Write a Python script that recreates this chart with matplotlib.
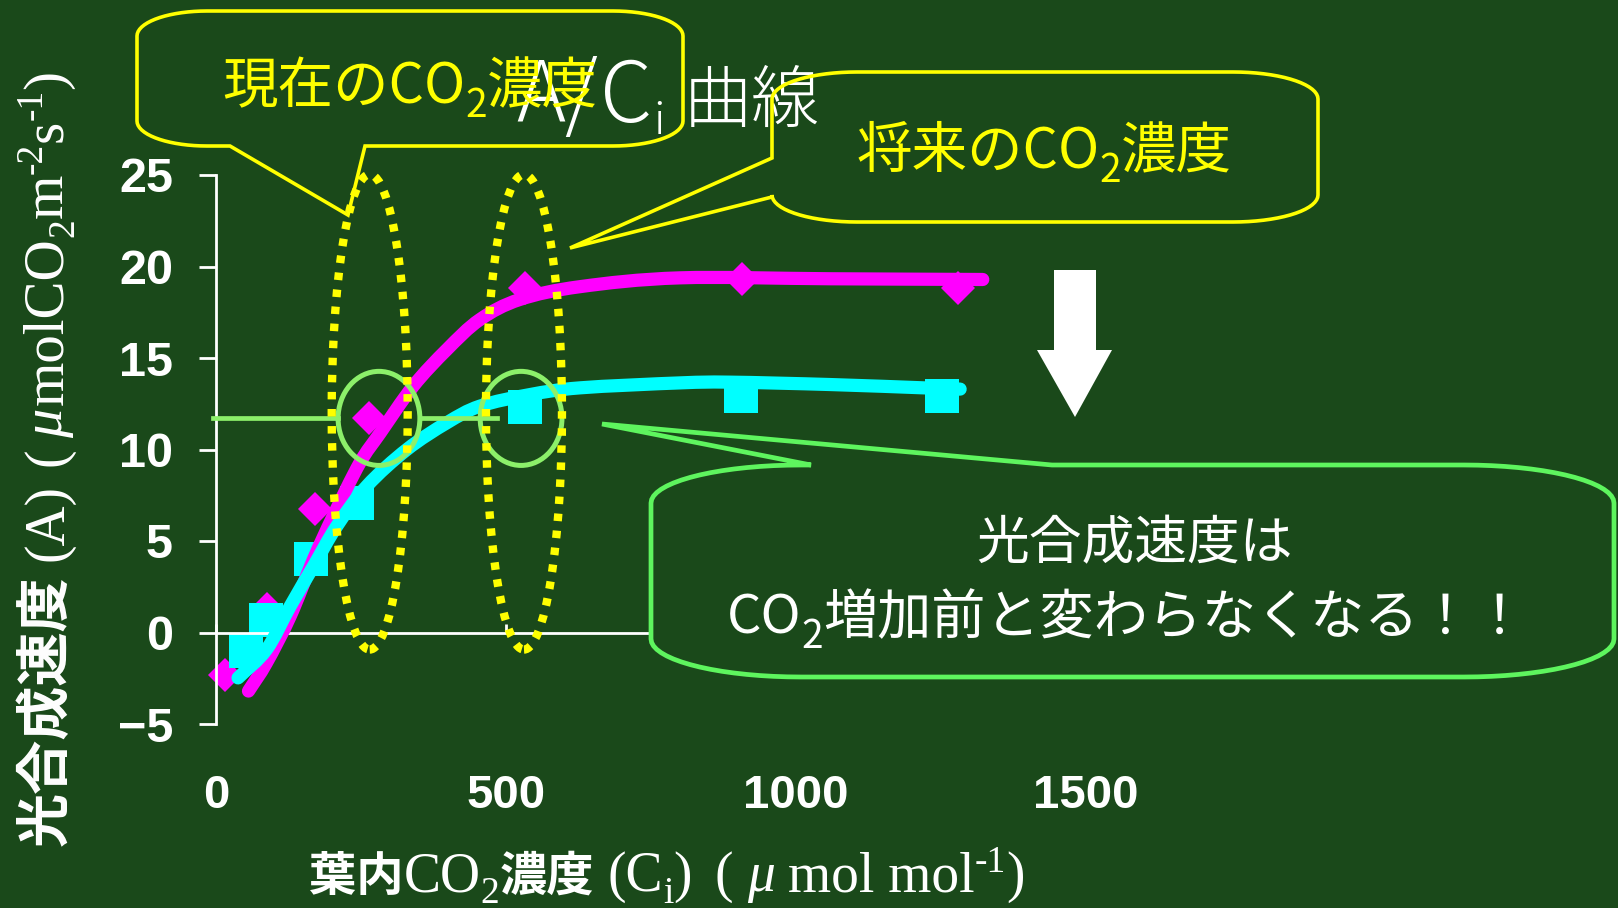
import numpy as np
import matplotlib
matplotlib.use("Agg")
import matplotlib.pyplot as plt
from matplotlib.patches import Polygon, Ellipse, PathPatch
from matplotlib.path import Path

# ---------------- data ----------------
# leaf-internal CO2 (umol mol-1) and net photosynthesis A (umol CO2 m-2 s-1)
ci_ambient_grown = [15, 88, 171, 264, 533, 907, 1280]
a_ambient_grown = [-2.3, 1.3, 6.75, 11.7, 18.85, 19.3, 18.8]
ci_elevated_grown = [52, 87, 163, 243, 532, 905, 1251]
a_elevated_grown = [-1.0, 0.7, 4.0, 7.1, 12.3, 12.95, 12.95]

# hand-fitted response curves
fit_ambient_ci = [56, 87, 128, 168, 202, 248, 283, 340, 398, 455, 524, 628, 800, 1059, 1322]
fit_ambient_a = [-3.2, -1.66, 0.89, 4.0, 6.36, 9.27, 10.9, 13.46, 15.46, 17.1, 18.2, 18.9,
                 19.38, 19.33, 19.29]
fit_elevated_ci = [38, 87, 128, 168, 208, 260, 329, 398, 455, 541, 628, 800, 886, 1059, 1219, 1283]
fit_elevated_a = [-2.48, -0.93, 1.44, 3.62, 5.8, 8.0, 10.0, 11.46, 12.37, 13.0, 13.37, 13.64,
                  13.68, 13.55, 13.37, 13.3]

# current / future CO2 levels highlighted on the chart
ci_current = 265
ci_future = 531

x_ticks = [0, 500, 1000, 1500]
y_ticks = [-5, 0, 5, 10, 15, 20, 25]

# ---------------- style ----------------
BG = "#1a491a"
MAGENTA = "#ff00ff"
CYAN = "#00ffff"
YELLOW = "#ffff00"
LIME = "#8cf06a"
GREEN = "#5ef55e"
WHITE = "#ffffff"

CJK_B = dict(family=["Noto Sans CJK JP"], weight="bold")
CJK = dict(family=["Noto Sans CJK JP"], weight="normal")
CJK_L = dict(family=["Noto Sans CJK JP"], weight="light")
SERIF = dict(family=["Liberation Serif", "Noto Sans CJK JP"], weight="normal")
SERIF_I = dict(family=["Liberation Serif"], weight="normal", style="italic")

W, H = 1618, 908
fig = plt.figure(figsize=(W / 100, H / 100), dpi=100, facecolor=BG)

# plot area: x 0..1500 -> px 216..1086, y -5..25 -> px 724..175
ax = fig.add_axes([216 / W, 1 - 724 / H, 870 / W, 549 / H])
ax.set_facecolor("none")
ax.set_xlim(0, 1500)
ax.set_ylim(-5, 25)

for s in ("top", "right"):
    ax.spines[s].set_visible(False)
ax.spines["left"].set_color(WHITE)
ax.spines["left"].set_linewidth(2)
ax.spines["bottom"].set_color(WHITE)
ax.spines["bottom"].set_linewidth(2)
ax.spines["bottom"].set_position(("data", 0))

ax.set_yticks(y_ticks)
ax.set_yticklabels([str(v).replace("-", "\u2212") for v in y_ticks],
                   fontsize=35, fontweight="bold", family="Liberation Sans", color=WHITE)
ax.tick_params(axis="y", direction="out", length=12, width=2, color=WHITE, pad=19)
ax.set_xticks(x_ticks)
ax.set_xticklabels([str(v) for v in x_ticks],
                   fontsize=34, fontweight="bold", family="Liberation Sans", color=WHITE)
ax.tick_params(axis="x", direction="in", length=6.5, width=2, color=WHITE, pad=102)


def smooth_path(xs, ys):
    """Catmull-Rom curve through the given points, as cubic Bezier segments."""
    p = np.column_stack([xs, ys]).astype(float)
    q = np.vstack([2 * p[0] - p[1], p, 2 * p[-1] - p[-2]])
    verts, codes = [p[0]], [Path.MOVETO]
    for i in range(1, len(q) - 2):
        p0, p1, p2, p3 = q[i - 1], q[i], q[i + 1], q[i + 2]
        verts += [p1 + (p2 - p0) / 6, p2 - (p3 - p1) / 6, p2]
        codes += [Path.CURVE4] * 3
    return Path(verts, codes)


# measured points
ax.plot(ci_ambient_grown, a_ambient_grown, linestyle="none", marker="D", ms=17,
        mew=0, color=MAGENTA, zorder=2, clip_on=False)
ax.plot(ci_elevated_grown, a_elevated_grown, linestyle="none", marker="s", ms=25,
        mew=0, color=CYAN, zorder=2, clip_on=False)

# fitted curves
for fx, fy, col in ((fit_ambient_ci, fit_ambient_a, MAGENTA),
                    (fit_elevated_ci, fit_elevated_a, CYAN)):
    ax.add_patch(PathPatch(smooth_path(fx, fy), fill=False, edgecolor=col, lw=9.5,
                           capstyle="round", joinstyle="round", zorder=3, clip_on=False))

# reference level: rate at the current CO2 level
rate_now = a_ambient_grown[3]
ax.plot([-5, 210], [rate_now, rate_now], color=LIME, lw=3.4, zorder=4, clip_on=False)
ax.plot([352, 484], [rate_now, rate_now], color=LIME, lw=3.4, zorder=4, clip_on=False)
for cx in (ci_current + 16, ci_future - 5):
    ax.add_patch(Ellipse((cx, rate_now), 141, 5.14, fill=False, edgecolor=LIME,
                         lw=3.6, zorder=4, clip_on=False))

# dotted ellipses marking the two CO2 levels
for cx in (ci_current, ci_future):
    ax.add_patch(Ellipse((cx, 12.05), 131, 25.96, fill=False, edgecolor=YELLOW,
                         lw=6, linestyle=(0, (0.9, 1.15)), zorder=5, clip_on=False))

# ---------------- overlay in pixel coordinates ----------------
ov = fig.add_axes([0, 0, 1, 1], zorder=5)
ov.set_xlim(0, W)
ov.set_ylim(H, 0)
ov.axis("off")
ov.patch.set_alpha(0)
renderer = fig.canvas.get_renderer()


def run_width(s, props, size):
    t = ov.text(0, 0, s, size=size, **props)
    w = t.get_window_extent(renderer).width
    t.remove()
    return w


def draw_runs(x, y, runs, color, vertical=False, align="left", zorder=6):
    """runs: (text, props, size, baseline shift px, gap after px)"""
    widths = [run_width(s, p, sz) for s, p, sz, _, _ in runs]
    total = sum(widths) + sum(g for *_, g in runs[:-1])
    pos = (x if not vertical else y)
    if align == "center":
        pos = pos - total / 2 if not vertical else pos + total / 2
    for (s, p, sz, dy, gap), w in zip(runs, widths):
        if not vertical:
            ov.text(pos, y + dy, s, size=sz, color=color, ha="left", va="baseline",
                    zorder=zorder, **p)
            pos += w + gap
        else:
            ov.text(x + dy, pos, s, size=sz, color=color, ha="left", va="baseline",
                    rotation=90, rotation_mode="anchor", zorder=zorder, **p)
            pos -= w + gap


def callout(x0, y0, x1, y1, rx, ry, edge, a, b, tip, n=18):
    def arc(cx, cy, t0, t1):
        t = np.radians(np.linspace(t0, t1, n))
        return np.column_stack([cx + rx * np.cos(t), cy + ry * np.sin(t)])
    parts = [[(x0 + rx, y0)]]
    if edge == "top":
        parts.append([(a, y0), tip, (b, y0)])
    parts.append([(x1 - rx, y0)])
    parts.append(arc(x1 - rx, y0 + ry, -90, 0))
    parts.append(arc(x1 - rx, y1 - ry, 0, 90))
    if edge == "bottom":
        parts.append([(b, y1), tip, (a, y1)])
    parts.append(arc(x0 + rx, y1 - ry, 90, 180))
    if edge == "left":
        parts.append([(x0, b), tip, (x0, a)])
    parts.append(arc(x0 + rx, y0 + ry, 180, 270))
    return np.vstack([np.asarray(p, float) for p in parts])


# title
for tx, ty, s, sz in ((516, 122, "A/", 60), (600, 122, "C", 60), (653, 134, "i", 32),
                      (684, 122, "曲線", 49)):
    ov.text(tx, ty, s, size=sz, color=WHITE, ha="left", va="baseline", zorder=6, **CJK_L)

# callouts
ov.add_patch(Polygon(callout(137, 11, 683, 146, 70, 25, "bottom", 230, 365, (348, 215)),
                     closed=True, fill=False, edgecolor=YELLOW, lw=2.6, joinstyle="miter",
                     zorder=7))
ov.add_patch(Polygon(callout(772, 72, 1318, 222, 85, 27, "left", 158, 197, (570, 248)),
                     closed=True, fill=False, edgecolor=YELLOW, lw=2.6, joinstyle="miter",
                     zorder=7))
ov.add_patch(Polygon(callout(651, 465, 1614, 677, 150, 38, "top", 811, 1052, (602, 424)),
                     closed=True, facecolor=BG, edgecolor=GREEN, lw=3.4, joinstyle="miter",
                     zorder=4))

draw_runs(410, 103, [("現在のCO", CJK, 40, 0, 0), ("2", CJK, 28, 14, 0), ("濃度", CJK, 40, 0, 0)],
          YELLOW, align="center", zorder=8)
draw_runs(1044, 168, [("将来のCO", CJK, 40, 0, 0), ("2", CJK, 28, 14, 0), ("濃度", CJK, 40, 0, 0)],
          YELLOW, align="center", zorder=8)
draw_runs(1134, 559, [("光合成速度は", CJK, 38, 0, 0)], WHITE, align="center", zorder=8)
draw_runs(1127, 634, [("CO", CJK, 39, 0, 0), ("2", CJK, 28, 14, 0),
                      ("増加前と変わらなくなる！！", CJK, 39, 0, 0)],
          WHITE, align="center", zorder=8)

# down arrow
ov.add_patch(Polygon([(1054, 270), (1096, 270), (1096, 350), (1112, 350), (1075, 417),
                      (1037, 350), (1054, 350)], closed=True, facecolor=WHITE,
                     edgecolor="none", zorder=6))

# axis titles
draw_runs(62, 846, [("光合成速度", CJK_B, 39, 0, 14), ("(A)", SERIF, 40, 0, 18),
                    ("(", SERIF, 40, 0, 10), ("μ", SERIF_I, 42, 0, 4),
                    ("molCO", SERIF, 41, 0, 0), ("2", SERIF, 27, 11, 0),
                    ("m", SERIF, 41, 0, 0), ("-2", SERIF, 27, -20, 0),
                    ("s", SERIF, 41, 0, 0), ("-1", SERIF, 27, -20, 0),
                    (")", SERIF, 41, 0, 0)],
          WHITE, vertical=True)
draw_runs(309, 891, [("葉内", CJK_B, 34, 0, 0), ("CO", SERIF, 40, 0, 0),
                     ("2", SERIF, 27, 12, 0), ("濃度", CJK_B, 34, 0, 14),
                     ("(C", SERIF, 40, 0, 0), ("i", SERIF, 27, 12, 0), (")", SERIF, 40, 0, 22),
                     ("(", SERIF, 40, 0, 14), ("μ", SERIF_I, 40, 0, 14),
                     ("mol mol", SERIF, 40, 0, 0), ("-1", SERIF, 27, -19, 0),
                     (")", SERIF, 40, 0, 0)],
          WHITE)

fig.savefig("out.png", dpi=100, facecolor=BG)
